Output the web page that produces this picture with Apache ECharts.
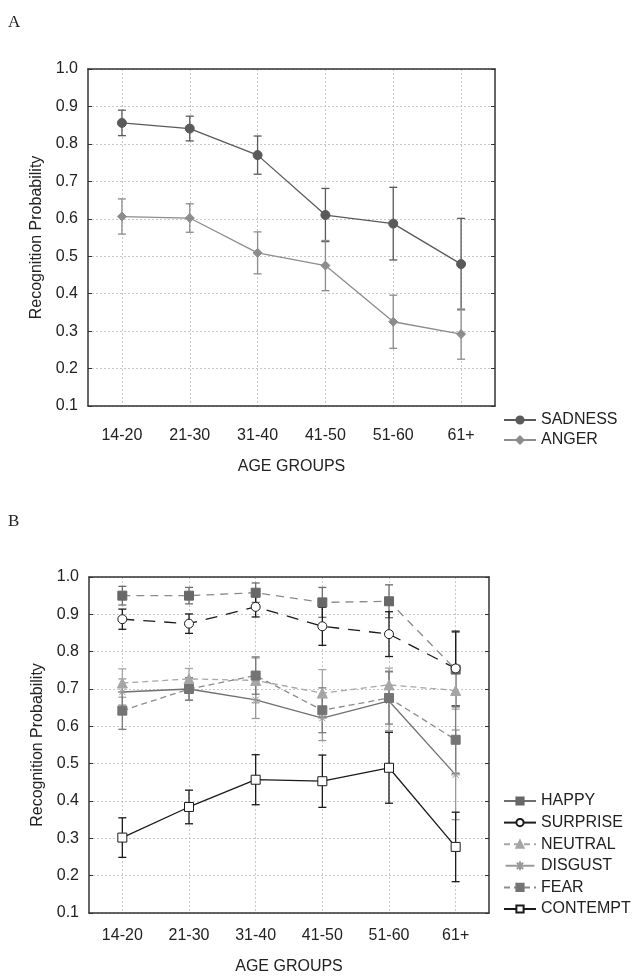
<!DOCTYPE html>
<html>
<head>
<meta charset="utf-8">
<script src="https://cdn.jsdelivr.net/npm/echarts@6/dist/echarts.min.js"></script>
<style>
  html, body { margin: 0; padding: 0; background: #fff; }
  #chart { width: 637px; height: 976px; }
</style>
</head>
<body>
<div id="chart"></div>
<script>
var ageGroups = ['14-20', '21-30', '31-40', '41-50', '51-60', '61+'];
var yTicks = [0.1, 1.0];

// panel A
var sadness = [0.856, 0.841, 0.770, 0.610, 0.587, 0.479];
var sadnessErr = [0.034, 0.033, 0.051, 0.071, 0.097, 0.122];
var anger = [0.606, 0.602, 0.509, 0.475, 0.325, 0.292];
var angerErr = [0.047, 0.038, 0.056, 0.067, 0.071, 0.067];

// panel B
var happy = [0.950, 0.950, 0.958, 0.932, 0.935, 0.752];
var happyErr = [0.025, 0.022, 0.026, 0.040, 0.044, 0.100];
var surprise = [0.887, 0.875, 0.920, 0.868, 0.847, 0.755];
var surpriseErr = [0.027, 0.026, 0.027, 0.051, 0.060, 0.100];
var neutral = [0.716, 0.727, 0.723, 0.689, 0.711, 0.696];
var neutralErr = [0.038, 0.028, 0.060, 0.063, 0.045, 0.050];
var disgust = [0.692, 0.700, 0.671, 0.622, 0.668, 0.470];
var disgustErr = [0.035, 0.030, 0.050, 0.060, 0.080, 0.120];
var fear = [0.642, 0.700, 0.736, 0.643, 0.676, 0.564];
var fearErr = [0.050, 0.030, 0.050, 0.060, 0.070, 0.090];
var contempt = [0.302, 0.384, 0.457, 0.453, 0.489, 0.277];
var contemptErr = [0.053, 0.045, 0.067, 0.070, 0.095, 0.093];

var font = 'Liberation Sans, Arial, sans-serif';
var asterisk = 'path://M0,5L10,5M5,0L5,10M1.5,1.5L8.5,8.5M8.5,1.5L1.5,8.5';
var asteriskLegend = 'path://M0,5L32,5M16,0L16,10M12.5,1.5L19.5,8.5M19.5,1.5L12.5,8.5';

var chartDom = document.getElementById('chart');
var myChart = echarts.init(chartDom);

function errData(vals, errs) {
    var list = [];
    for (var i = 0; i < vals.length; i++) {
        list.push([i, vals[i] - errs[i], vals[i] + errs[i]]);
    }
    return list;
}

function renderErr(params, api) {
    var lo = api.coord([api.value(0), api.value(1)]);
    var hi = api.coord([api.value(0), api.value(2)]);
    var w = 4;
    var style = { stroke: api.visual('color'), lineWidth: 1.3, fill: null };
    return {
        type: 'group',
        children: [
            { type: 'line', shape: { x1: lo[0], y1: lo[1], x2: hi[0], y2: hi[1] }, style: style },
            { type: 'line', shape: { x1: lo[0] - w, y1: lo[1], x2: lo[0] + w, y2: lo[1] }, style: style },
            { type: 'line', shape: { x1: hi[0] - w, y1: hi[1], x2: hi[0] + w, y2: hi[1] }, style: style }
        ]
    };
}

// error bars get their own names so the legend picks up the line series
function errSeries(name, vals, errs, color, xi, yi) {
    return {
        type: 'custom',
        name: name + ' err',
        xAxisIndex: xi,
        yAxisIndex: yi,
        renderItem: renderErr,
        itemStyle: { color: color },
        data: errData(vals, errs),
        z: 1,
        silent: true
    };
}

function lineSeries(name, vals, opt, xi, yi) {
    return {
        type: 'line',
        name: name,
        xAxisIndex: xi,
        yAxisIndex: yi,
        data: vals,
        symbol: opt.symbol,
        symbolSize: opt.size,
        showAllSymbol: true,
        lineStyle: { color: opt.line, width: 1.3, type: opt.dash || 'solid' },
        itemStyle: { color: opt.fill, borderColor: opt.border || opt.fill, borderWidth: opt.bw || 1 },
        z: 3
    };
}

function bottomAxis(gi, margin, gap) {
    return {
        type: 'category',
        gridIndex: gi,
        data: ageGroups,
        position: 'bottom',
        name: 'AGE GROUPS',
        nameLocation: 'middle',
        nameGap: gap,
        nameTextStyle: { color: '#222', fontSize: 16, fontFamily: font },
        axisLine: { lineStyle: { color: '#333', width: 1.5 } },
        axisTick: { inside: true, alignWithLabel: true, length: 4, lineStyle: { color: '#333' } },
        axisLabel: { color: '#222', fontSize: 16, fontFamily: font, margin: margin },
        splitLine: { show: true, alignWithLabel: true, lineStyle: { color: '#c8c8c8', type: [2, 2] } }
    };
}

function topAxis(gi) {
    return {
        type: 'category',
        gridIndex: gi,
        data: ageGroups,
        position: 'top',
        axisLine: { lineStyle: { color: '#333', width: 1.5 } },
        axisTick: { inside: true, alignWithLabel: true, length: 4, lineStyle: { color: '#333' } },
        axisLabel: { show: false },
        splitLine: { show: false }
    };
}

function leftAxis(gi) {
    return {
        type: 'value',
        gridIndex: gi,
        min: yTicks[0],
        max: yTicks[1],
        interval: 0.1,
        position: 'left',
        name: 'Recognition Probability',
        nameLocation: 'middle',
        nameRotate: 90,
        nameGap: 43,
        nameTextStyle: { color: '#222', fontSize: 16, fontFamily: font },
        axisLine: { show: true, lineStyle: { color: '#333', width: 1.5 } },
        axisTick: { show: true, inside: true, length: 4, lineStyle: { color: '#333' } },
        axisLabel: { color: '#222', fontSize: 16, fontFamily: font, margin: 10,
            formatter: function (v) { return v.toFixed(1); } },
        splitLine: { show: true, lineStyle: { color: '#c8c8c8', type: [2, 2] } }
    };
}

function rightAxis(gi) {
    return {
        type: 'value',
        gridIndex: gi,
        min: yTicks[0],
        max: yTicks[1],
        interval: 0.1,
        position: 'right',
        axisLine: { show: true, lineStyle: { color: '#333', width: 1.5 } },
        axisTick: { show: true, inside: true, length: 4, lineStyle: { color: '#333' } },
        axisLabel: { show: false },
        splitLine: { show: false }
    };
}

var sadOpt = { symbol: 'circle', size: 9, line: '#5a5a5a', fill: '#5a5a5a' };
var angOpt = { symbol: 'diamond', size: 9, line: '#8c8c8c', fill: '#8c8c8c' };
var hapOpt = { symbol: 'rect', size: 9, line: '#8a8a8a', fill: '#686868', dash: [8, 6] };
var surOpt = { symbol: 'circle', size: 9, line: '#1a1a1a', fill: '#fff', border: '#1a1a1a', dash: [12, 9] };
var neuOpt = { symbol: 'triangle', size: 10, line: '#a6a6a6', fill: '#a6a6a6', dash: [6, 4] };
var disOpt = { symbol: asterisk, size: 9, line: '#707070', fill: 'none', border: '#9a9a9a', bw: 1 };
var feaOpt = { symbol: 'rect', size: 9, line: '#8c8c8c', fill: '#747474', dash: [6, 4] };
var conOpt = { symbol: 'rect', size: 9, line: '#1a1a1a', fill: '#fff', border: '#1a1a1a' };

var legendText = { color: '#222', fontSize: 16, fontFamily: font };

var option = {
    backgroundColor: '#fff',
    animation: false,
    title: [
        { text: 'A', left: 3, top: 9, textStyle: { fontFamily: 'Liberation Serif, serif', fontWeight: 'normal', fontSize: 17, color: '#222' } },
        { text: 'B', left: 3, top: 508, textStyle: { fontFamily: 'Liberation Serif, serif', fontWeight: 'normal', fontSize: 17, color: '#222' } }
    ],
    legend: [
        {
            data: ['SADNESS', 'ANGER'],
            orient: 'vertical',
            left: 498,
            top: 407,
            itemWidth: 32,
            itemHeight: 9,
            itemGap: 4,
            textStyle: legendText
        },
        {
            data: [
                { name: 'HAPPY', lineStyle: { type: 'solid', color: '#6e6e6e' } },
                { name: 'SURPRISE', lineStyle: { type: 'solid' } },
                'NEUTRAL',
                { name: 'DISGUST', icon: asteriskLegend },
                'FEAR',
                'CONTEMPT'
            ],
            orient: 'vertical',
            left: 498,
            top: 788,
            itemWidth: 32,
            itemHeight: 9,
            itemGap: 5.6,
            textStyle: legendText
        }
    ],
    grid: [
        { left: 88, top: 69, width: 407, height: 337 },
        { left: 89, top: 577, width: 400, height: 336 }
    ],
    xAxis: [bottomAxis(0, 22, 53), topAxis(0), bottomAxis(1, 15, 46), topAxis(1)],
    yAxis: [leftAxis(0), rightAxis(0), leftAxis(1), rightAxis(1)],
    series: [
        errSeries('SADNESS', sadness, sadnessErr, '#5a5a5a', 0, 0),
        errSeries('ANGER', anger, angerErr, '#8c8c8c', 0, 0),
        lineSeries('SADNESS', sadness, sadOpt, 0, 0),
        lineSeries('ANGER', anger, angOpt, 0, 0),

        errSeries('HAPPY', happy, happyErr, '#6e6e6e', 2, 2),
        errSeries('SURPRISE', surprise, surpriseErr, '#1a1a1a', 2, 2),
        errSeries('NEUTRAL', neutral, neutralErr, '#a6a6a6', 2, 2),
        errSeries('DISGUST', disgust, disgustErr, '#9a9a9a', 2, 2),
        errSeries('FEAR', fear, fearErr, '#7a7a7a', 2, 2),
        errSeries('CONTEMPT', contempt, contemptErr, '#1a1a1a', 2, 2),
        lineSeries('HAPPY', happy, hapOpt, 2, 2),
        lineSeries('SURPRISE', surprise, surOpt, 2, 2),
        lineSeries('NEUTRAL', neutral, neuOpt, 2, 2),
        lineSeries('DISGUST', disgust, disOpt, 2, 2),
        lineSeries('FEAR', fear, feaOpt, 2, 2),
        lineSeries('CONTEMPT', contempt, conOpt, 2, 2)
    ]
};

myChart.setOption(option);
</script>
</body>
</html>
